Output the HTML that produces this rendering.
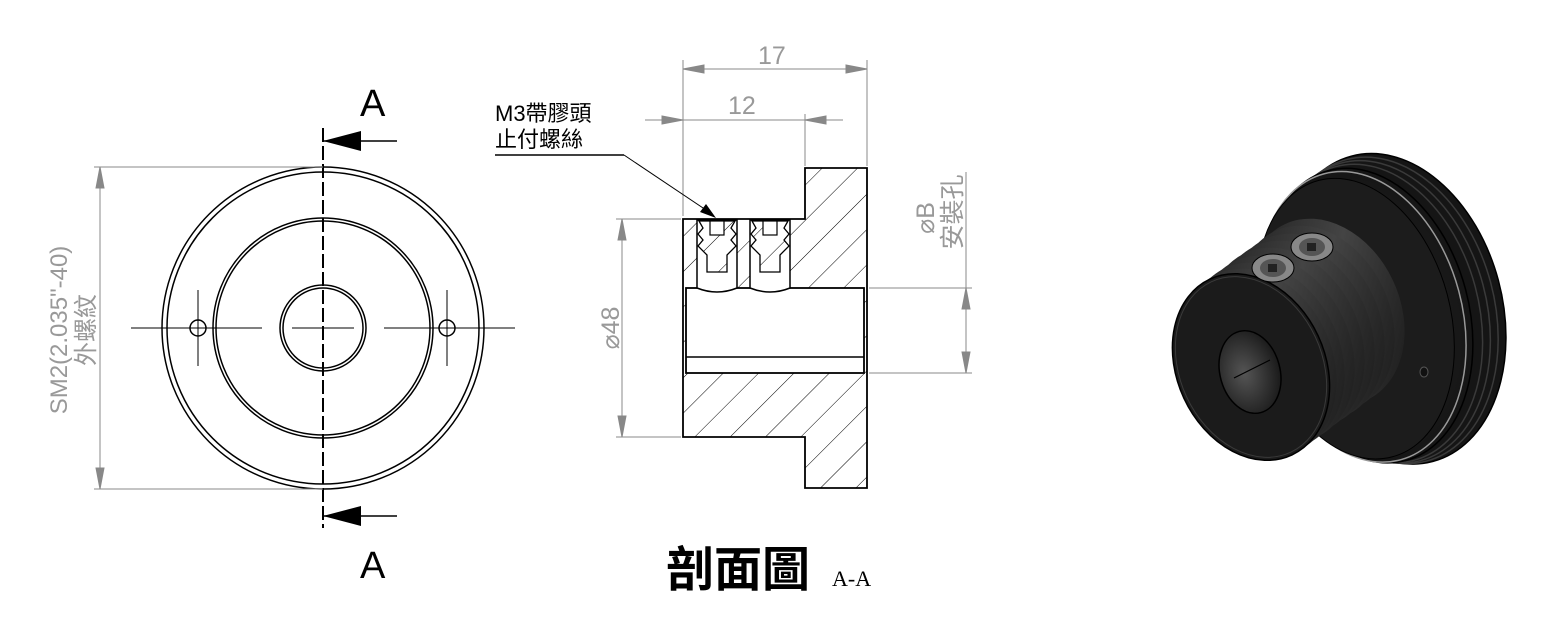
<!DOCTYPE html>
<html><head><meta charset="utf-8">
<style>
html,body{margin:0;padding:0;background:#fff;}
svg{display:block;}
</style></head><body>
<svg width="1542" height="617" viewBox="0 0 1542 617" xmlns="http://www.w3.org/2000/svg">
<defs>
<pattern id="hatch" patternUnits="userSpaceOnUse" width="25" height="25" patternTransform="rotate(45)">
<line x1="0" y1="0" x2="0" y2="25" stroke="#000" stroke-width="1"/>
</pattern>
<linearGradient id="hub" x1="0" y1="0" x2="1" y2="1">
<stop offset="0" stop-color="#1a1a1a"/><stop offset="0.5" stop-color="#444"/><stop offset="1" stop-color="#141414"/>
</linearGradient>
<radialGradient id="fl" cx="0.5" cy="0.5" r="0.6">
<stop offset="0" stop-color="#2a2a2a"/><stop offset="1" stop-color="#111"/>
</radialGradient>
<radialGradient id="bore" cx="0.4" cy="0.5" r="0.6">
<stop offset="0" stop-color="#555"/><stop offset="1" stop-color="#1a1a1a"/>
</radialGradient>
</defs>

<!-- LEFT VIEW -->
<g fill="none" stroke="#000" stroke-width="1.5">
<circle cx="323" cy="328" r="161"/>
<circle cx="323" cy="328" r="156"/>
<circle cx="323" cy="328" r="110"/>
<circle cx="323" cy="328" r="107"/>
<circle cx="323" cy="328" r="43"/>
<circle cx="323" cy="328" r="40"/>
<circle cx="198" cy="328" r="8"/>
<circle cx="447" cy="328" r="8"/>
</g>
<g stroke="#000" stroke-width="1">
<line x1="131" y1="328" x2="262" y2="328"/>
<line x1="292" y1="328" x2="354" y2="328"/>
<line x1="384" y1="328" x2="515" y2="328"/>
<line x1="198" y1="290" x2="198" y2="366"/>
<line x1="447" y1="290" x2="447" y2="366"/>
</g>
<line x1="323" y1="128" x2="323" y2="528" stroke="#000" stroke-width="2" stroke-dasharray="14,4"/>
<g stroke="#000" stroke-width="1.5"><line x1="323" y1="141" x2="397" y2="141"/><line x1="323" y1="516" x2="397" y2="516"/></g>
<polygon points="323,141 361,131 361,151" fill="#000"/>
<polygon points="323,516 361,506 361,526" fill="#000"/>
<g font-family="Liberation Sans, sans-serif" font-size="38" fill="#000">
<text x="360" y="116">A</text><text x="360" y="578">A</text>
</g>
<g stroke="#888" stroke-width="1" fill="#888">
<line x1="94" y1="167" x2="323" y2="167"/>
<line x1="94" y1="489" x2="323" y2="489"/>
<line x1="100" y1="167" x2="100" y2="489"/>
<polygon points="100,167 96,188 104,188"/><polygon points="100,489 96,468 104,468"/>
</g>
<g font-family="Liberation Sans, 'Noto Sans CJK TC', sans-serif" font-size="24" fill="#999" text-anchor="middle">
<text transform="translate(67,330) rotate(-90)">SM2(2.035"-40)</text>
<text transform="translate(94,330) rotate(-90)">外螺紋</text>
</g>

<!-- SECTION VIEW -->
<g stroke="#000" stroke-width="1.8" fill="url(#hatch)">
<path d="M683 437 L683 219 L805 219 L805 168 L867 168 L867 488 L805 488 L805 437 Z"/>
</g>
<rect x="686" y="288" width="178" height="85" fill="#fff" stroke="#000" stroke-width="1.8"/>
<line x1="686" y1="357" x2="864" y2="357" stroke="#000" stroke-width="1.5"/>
<g stroke="#000" stroke-width="1.5" fill="#fff">
<path d="M697 220 L737 220 L737 288 Q717 296 697 288 Z"/>
<path d="M750 220 L790 220 L790 288 Q770 296 750 288 Z"/>
</g>
<g stroke="#000" stroke-width="1.3" fill="url(#hatch)">
<path d="M699 221 L735 221 L731 228 L736 234 L731 240 L736 246 L727 255 L727 272 L707 272 L707 255 L698 246 L703 240 L698 234 L703 228 Z"/>
<path d="M752 221 L788 221 L784 228 L789 234 L784 240 L789 246 L780 255 L780 272 L760 272 L760 255 L751 246 L756 240 L751 234 L756 228 Z"/>
</g>
<g stroke="#000" stroke-width="1.2" fill="#fff">
<rect x="710" y="221" width="14" height="14"/><rect x="763" y="221" width="14" height="14"/>
</g>
<g stroke="#888" stroke-width="1" fill="#888">
<line x1="683" y1="60" x2="683" y2="216"/>
<line x1="867" y1="60" x2="867" y2="166"/>
<line x1="683" y1="69" x2="867" y2="69"/>
<polygon points="683,69 704,65 704,73"/><polygon points="867,69 846,65 846,73"/>
<line x1="805" y1="114" x2="805" y2="166"/>
<line x1="645" y1="120" x2="843" y2="120"/>
<polygon points="683,120 662,116 662,124"/><polygon points="805,120 826,116 826,124"/>
<line x1="616" y1="219" x2="681" y2="219"/>
<line x1="616" y1="437" x2="681" y2="437"/>
<line x1="622" y1="219" x2="622" y2="437"/>
<polygon points="622,219 618,240 626,240"/><polygon points="622,437 618,416 626,416"/>
<line x1="869" y1="288" x2="972" y2="288"/>
<line x1="869" y1="373" x2="972" y2="373"/>
<line x1="966" y1="172" x2="966" y2="373"/>
<polygon points="966,288 962,309 970,309"/><polygon points="966,373 962,352 970,352"/>
</g>
<g font-family="Liberation Sans, 'Noto Sans CJK TC', sans-serif" font-size="25" fill="#999">
<text x="758" y="64">17</text>
<text x="728" y="114">12</text>
<text transform="translate(619,328) rotate(-90)" text-anchor="middle">⌀48</text>
<text transform="translate(934,218) rotate(-90)" text-anchor="middle">⌀B</text>
<text transform="translate(961,212) rotate(-90)" text-anchor="middle">安裝孔</text>
</g>
<g font-family="Liberation Sans, 'Noto Sans CJK TC', sans-serif" font-size="22" fill="#000">
<text x="495" y="121">M3帶膠頭</text>
<text x="495" y="147">止付螺絲</text>
</g>
<line x1="495" y1="155" x2="624" y2="155" stroke="#000" stroke-width="1.5"/>
<line x1="624" y1="155" x2="712" y2="214" stroke="#000" stroke-width="1"/>
<polygon points="716,218 700,212 706,204" fill="#000"/>
<text x="666" y="586" font-family="'Noto Sans CJK TC', sans-serif" font-size="48" font-weight="bold" fill="#000">剖面圖</text>
<text x="832" y="586" font-family="Liberation Serif, serif" font-size="22" fill="#000">A-A</text>

<!-- ISO VIEW -->
<g transform="rotate(-15 1380 310)">
<ellipse cx="1392" cy="312" rx="110" ry="158" fill="#151515" stroke="#000" stroke-width="1.5"/>
<ellipse cx="1386" cy="312" rx="108" ry="156" fill="none" stroke="#3a3a3a" stroke-width="1.5"/>
<ellipse cx="1380" cy="312" rx="106" ry="154" fill="none" stroke="#3a3a3a" stroke-width="1.5"/>
<ellipse cx="1374" cy="312" rx="104" ry="152" fill="none" stroke="#3a3a3a" stroke-width="1.5"/>
<ellipse cx="1366" cy="312" rx="102" ry="150" fill="url(#fl)" stroke="#000" stroke-width="1.5"/>
<ellipse cx="1361" cy="312" rx="100" ry="148" fill="none" stroke="#999" stroke-width="1.5"/>
<ellipse cx="1354" cy="312" rx="95" ry="143" fill="#1c1c1c" stroke="#000"/>
</g>
<g fill="url(#hub)">
<g transform="rotate(-25 1326 312)"><ellipse cx="1326" cy="312" rx="74" ry="97"/></g>
<g transform="rotate(-25 1316 319)"><ellipse cx="1316" cy="319" rx="74" ry="97"/></g>
<g transform="rotate(-25 1306 327)"><ellipse cx="1306" cy="327" rx="74" ry="97"/></g>
<g transform="rotate(-25 1296 334)"><ellipse cx="1296" cy="334" rx="74" ry="97"/></g>
<g transform="rotate(-25 1286 341)"><ellipse cx="1286" cy="341" rx="74" ry="97"/></g>
<g transform="rotate(-25 1276 349)"><ellipse cx="1276" cy="349" rx="74" ry="97"/></g>
<g transform="rotate(-25 1266 356)"><ellipse cx="1266" cy="356" rx="74" ry="97"/></g>
<g transform="rotate(-25 1258 362)"><ellipse cx="1258" cy="362" rx="74" ry="97"/></g>
</g>
<g transform="rotate(-25 1251 367)">
<ellipse cx="1251" cy="367" rx="74" ry="97" fill="#1b1b1b" stroke="#000" stroke-width="1.5"/>
<ellipse cx="1251" cy="367" rx="71" ry="94" fill="none" stroke="#3a3a3a"/>
</g>
<g transform="rotate(-15 1250 372)">
<ellipse cx="1250" cy="372" rx="30" ry="42" fill="url(#bore)" stroke="#000" stroke-width="1.5"/>
</g>
<line x1="1234" y1="378" x2="1270" y2="360" stroke="#000" stroke-width="1.2"/>
<ellipse cx="1273" cy="268" rx="21" ry="14" fill="#888" stroke="#000"/>
<ellipse cx="1273" cy="268" rx="13" ry="9" fill="#555"/>
<rect x="1268" y="264" width="9" height="8" fill="#222"/>
<ellipse cx="1312" cy="247" rx="21" ry="14" fill="#888" stroke="#000"/>
<ellipse cx="1312" cy="247" rx="13" ry="9" fill="#555"/>
<rect x="1307" y="243" width="9" height="8" fill="#222"/>
<ellipse cx="1424" cy="372" rx="4" ry="5" fill="#111" stroke="#555"/>
</svg>
</body></html>
